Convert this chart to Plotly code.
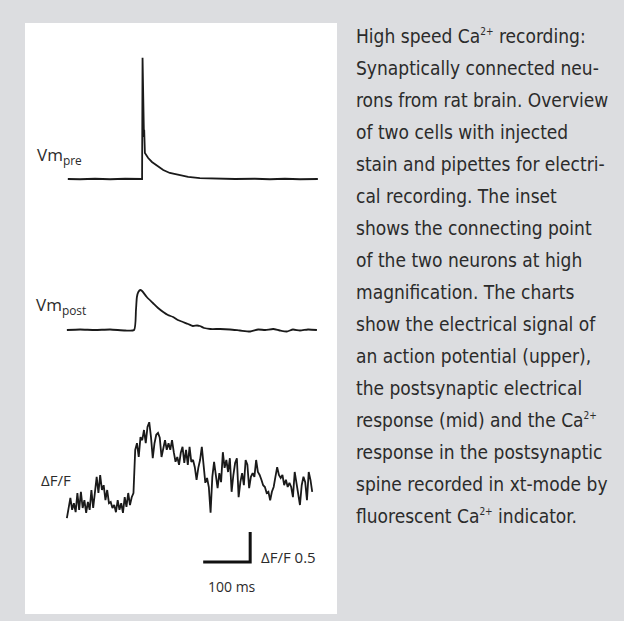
import numpy as np
import plotly.graph_objects as go

# ---------------- data ----------------
# Presynaptic membrane potential (time in ms, Vm in mV)
pre_t = [6, 32, 64, 96, 128, 164, 165, 167, 168, 168.5, 170, 177, 185, 196, 209, 223,
         240, 262, 287, 319, 362, 404, 436, 468, 500, 538]
pre_v = [-65, -65.2, -64.8, -65.2, -64.8, -65, 36, -21.7, -30, -24, -43.3, -47.5, -50.8,
         -54.2, -57.5, -60, -61.7, -63.3, -64.2, -64.6, -65, -64.8, -65.2, -64.8, -65.2, -65]

# Postsynaptic membrane potential (time in ms, Vm in mV)
post_t = [4, 32, 64, 96, 128, 147, 151, 153, 156, 160, 164, 174, 187, 198, 209, 219, 230,
          240, 251, 262, 272, 281, 287, 296, 309, 330, 351, 372, 394, 411, 426, 443, 457,
          472, 485, 500, 517, 536]
post_v = [-70, -69.9, -70, -69.9, -70.1, -70, -66, -63.4, -62.4, -62, -62.2, -63.4, -64.6,
          -65.6, -66.4, -67, -67.4, -68, -68.4, -68.8, -69.2, -69.1, -69.2, -69.6, -69.8,
          -69.8, -69.9, -70.1, -70.3, -69.9, -70, -69.8, -70.1, -70.3, -69.9, -70.1, -69.9, -70]

# Postsynaptic spine Ca2+ signal (dF/F), uniformly sampled between these times (ms)
dff_t_start, dff_t_end = 4, 526
dff = [-0.22, -0.03, 0.12, -0.08, 0.03, -0.12, 0.20, -0.08, 0.22, -0.05, 0.08, -0.13, 0.05,
       -0.08, 0.25, -0.05, 0.17, 0.47, 0.20, 0.50, 0.25, 0.33, 0.08, 0.25, 0.03, 0.05, -0.05,
       0.00, -0.12, 0.08, -0.08, 0.03, -0.13, 0.13, -0.03, 0.20, 0.00, 0.13, 0.20,
       0.92, 1.03, 0.80, 1.13, 1.08, 1.25, 1.03, 1.30, 1.38, 1.13, 0.78, 1.03, 1.17, 1.20,
       1.12, 0.80, 0.97, 1.08, 0.92, 1.03, 0.92, 1.08, 0.88, 0.72, 0.80, 0.67, 0.87, 0.97,
       0.70, 0.92, 0.67, 0.97, 0.72, 0.75, 0.63, 0.42, 0.62, 0.75, 0.97, 0.62, 0.37, 0.45,
       0.30, -0.13, 0.47, 0.72, 0.50, 0.28, 0.53, 0.38, 0.88, 0.62, 0.75, 0.55, 0.78, 0.22,
       0.50, 0.70, 0.78, 0.13, 0.38, 0.53, 0.33, 0.75, 0.67, 0.28, 0.47, 0.53, 0.47, 0.75,
       0.55, 0.50, 0.42, 0.33, 0.30, 0.20, 0.22, 0.08, 0.22, 0.30, 0.47, 0.63, 0.50, 0.45,
       0.50, 0.33, 0.42, 0.30, 0.37, 0.30, 0.13, 0.55, 0.37, 0.20, 0.00, 0.33, 0.47, 0.38,
       0.08, 0.55, 0.42, 0.22]
dff_time = np.linspace(dff_t_start, dff_t_end, len(dff))

# Scale bar values
scale_ms = 100
scale_dff = 0.5

SUP = "<sup><span style='font-size:10px'>2+</span></sup>"
caption_lines = [
    "High speed Ca" + SUP + " recording:",
    "Synaptically connected neu-",
    "rons from rat brain. Overview",
    "of two cells with injected",
    "stain and pipettes for electri-",
    "cal recording. The inset",
    "shows the connecting point",
    "of the two neurons at high",
    "magnification. The charts",
    "show the electrical signal of",
    "an action potential (upper),",
    "the postsynaptic electrical",
    "response (mid) and the Ca" + SUP,
    "response in the postsynaptic",
    "spine recorded in xt-mode by",
    "fluorescent Ca" + SUP + " indicator.",
]

# ---------------- layout geometry (pixels) ----------------
W, H = 624, 621
X0_PX, PX_PER_MS = 65, 0.47
BG = "#dcdde0"


def xr():
    return [(0 - X0_PX) / PX_PER_MS, (W - X0_PX) / PX_PER_MS]


def yr(base_px, base_val, px_per_unit):
    return [base_val - (H - base_px) / px_per_unit, base_val + base_px / px_per_unit]


def px(x):
    return x / W


def py(y):
    return 1 - y / H


SCALE_T0 = 294        # ms, left end of the scale bar
SCALE_Y0 = -0.95      # dF/F, bottom of the scale bar

LINE = "#1a1a1a"
TEXT = "#2b2b2b"
LABEL_FONT = "Open Sans, Lato, sans-serif"
CAPTION_FONT = "Liberation Sans Narrow, DejaVu Sans Condensed, Roboto, sans-serif"

fig = go.Figure()
fig.add_trace(go.Scatter(x=pre_t, y=pre_v, mode="lines", xaxis="x", yaxis="y",
                         line=dict(color=LINE, width=1.8), hoverinfo="skip"))
fig.add_trace(go.Scatter(x=post_t, y=post_v, mode="lines", xaxis="x", yaxis="y2",
                         line=dict(color=LINE, width=1.8, shape="spline", smoothing=0.6),
                         hoverinfo="skip"))
fig.add_trace(go.Scatter(x=dff_time, y=dff, mode="lines", xaxis="x", yaxis="y3",
                         line=dict(color=LINE, width=1.8), hoverinfo="skip"))
fig.add_trace(go.Scatter(x=[SCALE_T0, SCALE_T0 + scale_ms, SCALE_T0 + scale_ms],
                         y=[SCALE_Y0, SCALE_Y0, SCALE_Y0 + scale_dff],
                         mode="lines", xaxis="x", yaxis="y3",
                         line=dict(color="#111111", width=3), hoverinfo="skip"))

ax_common = dict(visible=False, fixedrange=True)
fig.update_layout(
    width=W, height=H, autosize=False,
    margin=dict(l=0, r=0, t=0, b=0),
    paper_bgcolor=BG,
    plot_bgcolor="rgba(0,0,0,0)",
    showlegend=False,
    xaxis=dict(domain=[0, 1], range=xr(), **ax_common),
    yaxis=dict(domain=[0, 1], range=yr(179, -65, 1.2), **ax_common),
    yaxis2=dict(domain=[0, 1], range=yr(330, -70, 5), overlaying="y", **ax_common),
    yaxis3=dict(domain=[0, 1], range=yr(505, 0, 60), overlaying="y", **ax_common),
    shapes=[dict(type="rect", xref="paper", yref="paper", layer="below",
                 x0=px(25), x1=px(337), y0=py(614), y1=py(23),
                 fillcolor="white", line=dict(width=0))],
)


def label(text, x, y, size, anchor="left"):
    return dict(text=text, x=px(x), y=py(y), xref="paper", yref="paper",
                xanchor=anchor, yanchor="middle", showarrow=False,
                font=dict(family=LABEL_FONT, size=size, color=TEXT))


ann = [
    label("Vm<sub>pre</sub>", 35, 155, 17),
    label("Vm<sub>post</sub>", 34, 305, 17),
    label("ΔF/F", 39, 480, 15),
    label("ΔF/F 0.5", 259, 557, 15),
    label("100 ms", 232, 586, 14, anchor="center"),
]

for i, line in enumerate(caption_lines):
    ann.append(dict(text=line, x=px(354), y=py(36 + 32 * i), xref="paper", yref="paper",
                    xanchor="left", yanchor="middle", showarrow=False,
                    font=dict(family=CAPTION_FONT, size=19, color=TEXT)))

fig.update_layout(annotations=ann)
fig.write_html(
    "out.html",
    config={"displayModeBar": False, "staticPlot": True},
    post_script="document.body.style.margin='0';document.body.style.background='%s';" % BG,
)
